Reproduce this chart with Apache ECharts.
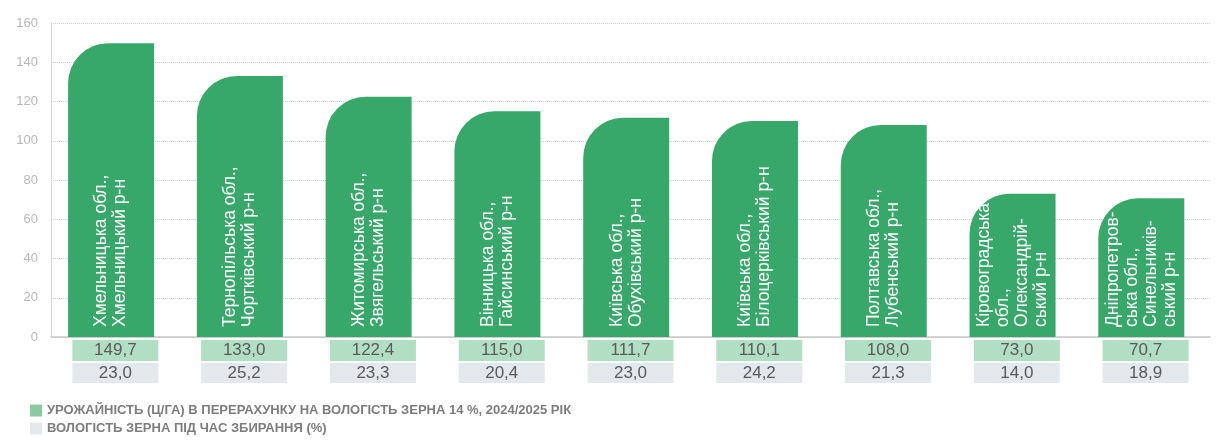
<!DOCTYPE html>
<html>
<head>
<meta charset="utf-8">
<script src="https://cdn.jsdelivr.net/npm/echarts@6/dist/echarts.min.js"></script>
<style>
html,body{margin:0;padding:0;background:#fff;}
#chart{width:1216px;height:443px;}
</style>
</head>
<body>
<div id="chart"></div>
<script>
var regions = [
  'Хмельницька обл.,\nХмельницький р-н',
  'Тернопільська обл.,\nЧортківський р-н',
  'Житомирська обл.,\nЗвягельський р-н',
  'Вінницька обл.,\nГайсинський р-н',
  'Київська обл.,\nОбухівський р-н',
  'Київська обл.,\nБілоцерківський р-н',
  'Полтавська обл.,\nЛубенський р-н',
  'Кіровоградська\nобл.,\nОлександрій-\nський р-н',
  'Дніпропетров-\nська обл.,\nСинельників-\nський р-н'
];
var yieldValues = [149.7, 133.0, 122.4, 115.0, 111.7, 110.1, 108.0, 73.0, 70.7];
var moistureValues = [23.0, 25.2, 23.3, 20.4, 23.0, 24.2, 21.3, 14.0, 18.9];
var yTicks = [0, 20, 40, 60, 80, 100, 120, 140, 160];
var legendNames = [
  'УРОЖАЙНІСТЬ (Ц/ГА) В ПЕРЕРАХУНКУ НА ВОЛОГІСТЬ ЗЕРНА 14 %, 2024/2025 РІК',
  'ВОЛОГІСТЬ ЗЕРНА ПІД ЧАС ЗБИРАННЯ (%)'
];

function fmt(v){ return v.toFixed(1).replace('.', ','); }

var FONT = '"Liberation Sans", Arial, sans-serif';
var chart = echarts.init(document.getElementById('chart'));
chart.setOption({
  animation: false,
  textStyle: {fontFamily: FONT},
  grid: {left: 51, right: 6, top: 23, bottom: 106},
  legend: {
    orient: 'vertical',
    left: 30,
    top: 404,
    padding: 0,
    itemWidth: 12,
    itemHeight: 12,
    itemGap: 5,
    icon: 'rect',
    textStyle: {color: '#7d7d7d', fontSize: 13, fontWeight: 'bold', fontFamily: FONT},
    data: [
      {name: legendNames[0], itemStyle: {color: '#8acaa1'}},
      {name: legendNames[1], itemStyle: {color: '#e3e8ec'}}
    ]
  },
  xAxis: {
    type: 'category',
    data: regions.map(function(r, i){ return i; }),
    axisTick: {show: false},
    axisLine: {lineStyle: {color: '#c8c8c8', width: 1.5}},
    axisLabel: {
      margin: 3,
      interval: 0,
      formatter: function(v, i){
        return '{a|' + fmt(yieldValues[i]) + '}\n{s|}\n{b|' + fmt(moistureValues[i]) + '}';
      },
      rich: {
        a: {backgroundColor: '#b2dfc3', width: 86, height: 21, lineHeight: 21, align: 'center', fontSize: 17, color: '#5a5a5a', fontFamily: FONT},
        s: {height: 2, lineHeight: 2, fontSize: 1},
        b: {backgroundColor: '#e3e8ec', width: 86, height: 20, lineHeight: 20, align: 'center', fontSize: 17, color: '#5a5a5a', fontFamily: FONT}
      }
    }
  },
  yAxis: {
    type: 'value',
    min: yTicks[0],
    max: yTicks[yTicks.length - 1],
    interval: 20,
    axisLine: {show: true, lineStyle: {color: '#cfcfcf', type: 'dotted'}},
    axisTick: {show: false},
    axisLabel: {color: '#b8b8b8', fontSize: 13, margin: 13},
    splitLine: {lineStyle: {color: '#cfcfcf', type: 'dotted'}}
  },
  series: [
    {
      name: legendNames[0],
      type: 'bar',
      barWidth: 86,
      data: yieldValues,
      itemStyle: {color: '#38a86a', borderRadius: [40, 0, 0, 0]},
      label: {
        show: true,
        position: 'insideBottom',
        rotate: 90,
        align: 'left',
        verticalAlign: 'middle',
        distance: 10,
        color: '#ffffff',
        fontSize: 17.5,
        lineHeight: 19,
        fontFamily: FONT,
        formatter: function(p){ return regions[p.dataIndex]; }
      }
    },
    {
      name: legendNames[1],
      type: 'bar',
      data: [],
      itemStyle: {color: '#e3e8ec'}
    }
  ]
});
</script>
</body>
</html>
